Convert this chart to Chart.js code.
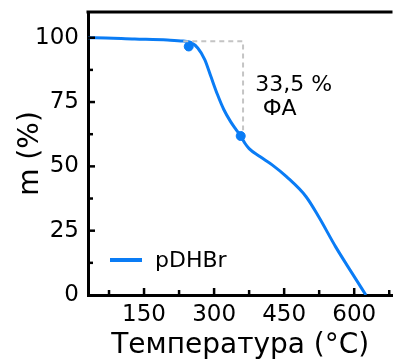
<!DOCTYPE html>
<html lang="ru">
<head>
<meta charset="UTF-8">
<title>TGA</title>
<script src="https://cdn.jsdelivr.net/npm/chart.js"></script>
<style>
  html, body { margin: 0; padding: 0; background: #fff; }
  #wrap { width: 398px; height: 363px; }
</style>
</head>
<body>
<div id="wrap"><canvas id="myChart"></canvas></div>
<script>
  // curve: temperature (°C) and mass (%)
  const temps = [30, 45, 130, 200, 234, 250, 265, 280, 293, 307, 321, 335, 347, 357, 366, 375, 398, 425, 455, 497, 524, 560, 595, 625];
  const mass  = [100, 100, 99.5, 99.1, 98.7, 98.2, 96, 91.5, 85, 78, 72, 67.5, 64.3, 61.8, 59, 56.9, 53.8, 50.5, 46, 38.2, 30.4, 18.8, 8.6, 0];
  // marked points
  const markT = [245.7, 357];
  const markM = [96.6, 61.8];
  // dashed guide
  const guideT = [234, 362, 362];
  const guideM = [98.6, 98.6, 64];
  const xTicks = [150, 300, 450, 600];
  const xMinor = [75, 225, 375, 525, 675];
  const yTicks = [0, 25, 50, 75, 100];
  const yMinor = [12.5, 37.5, 62.5, 87.5];
  const seriesName = "pDHBr";
  const noteLines = ["33,5 %", "ФА"];

  const FONT = "'DejaVu Sans', sans-serif";
  const BLUE = "#0a7cf5";

  const toXY = (xs, ys) => xs.map((x, i) => ({ x: x, y: ys[i] }));

  const extras = {
    id: "extras",
    afterDraw(chart) {
      const ctx = chart.ctx;
      const a = chart.chartArea;
      const xs = chart.scales.x, ys = chart.scales.y;
      ctx.save();
      ctx.strokeStyle = "#000";
      ctx.lineWidth = 3;
      // top frame
      ctx.beginPath();
      ctx.moveTo(a.left - 1.5, a.top);
      ctx.lineTo(a.right, a.top);
      ctx.stroke();
      // inward ticks
      ctx.lineWidth = 2.5;
      const tick = (v, len, horiz) => {
        ctx.beginPath();
        if (horiz) {
          const p = xs.getPixelForValue(v);
          ctx.moveTo(p, a.bottom);
          ctx.lineTo(p, a.bottom - len);
        } else {
          const p = ys.getPixelForValue(v);
          ctx.moveTo(a.left, p);
          ctx.lineTo(a.left + len, p);
        }
        ctx.stroke();
      };
      xTicks.forEach(v => tick(v, 7, true));
      xMinor.forEach(v => tick(v, 5, true));
      yTicks.forEach(v => { if (v > 0) tick(v, 7, false); });
      yMinor.forEach(v => tick(v, 5, false));
      // note
      ctx.fillStyle = "#000";
      ctx.font = "22px " + FONT;
      ctx.textBaseline = "middle";
      ctx.textAlign = "left";
      ctx.fillText(noteLines[0], xs.getPixelForValue(388), ys.getPixelForValue(81.6));
      ctx.fillText(noteLines[1], xs.getPixelForValue(404), ys.getPixelForValue(72));
      // legend
      ctx.strokeStyle = BLUE;
      ctx.lineWidth = 4;
      ctx.beginPath();
      ctx.moveTo(110, 260);
      ctx.lineTo(142, 260);
      ctx.stroke();
      ctx.fillText(seriesName, 155, 261);
      ctx.restore();
    }
  };

  new Chart(document.getElementById("myChart"), {
    type: "scatter",
    data: {
      datasets: [
        {
          label: "guide",
          data: toXY(guideT, guideM),
          showLine: true,
          borderColor: "#c4c4c4",
          borderWidth: 2,
          borderDash: [5, 4],
          pointRadius: 0,
        },
        {
          label: seriesName,
          data: toXY(temps, mass),
          showLine: true,
          borderColor: BLUE,
          borderWidth: 3,
          pointRadius: 0,
          cubicInterpolationMode: "monotone",
        },
        {
          label: "marks",
          data: toXY(markT, markM),
          showLine: false,
          backgroundColor: BLUE,
          borderColor: BLUE,
          pointRadius: 4.5,
        },
      ],
    },
    options: {
      responsive: true,
      maintainAspectRatio: false,
      animation: false,
      layout: { padding: { top: 12, right: 0, left: 0, bottom: 0 } },
      plugins: { legend: { display: false }, tooltip: { enabled: false } },
      scales: {
        x: {
          type: "linear",
          min: 30,
          max: 682,
          afterBuildTicks: (s) => { s.ticks = xTicks.map(v => ({ value: v })); },
          afterFit: (s) => { s.height = 68; s.paddingLeft = 0; s.paddingRight = 0; },
          grid: { display: false, drawTicks: false },
          border: { display: true, color: "#000", width: 3 },
          ticks: { color: "#000", font: { family: FONT, size: 23 }, padding: 6 },
          title: { display: true, text: "Температура (°C)", color: "#000", font: { family: FONT, size: 28 }, padding: { top: 0, bottom: 0 } },
        },
        y: {
          min: 0,
          max: 110,
          afterBuildTicks: (s) => { s.ticks = yTicks.map(v => ({ value: v })); },
          afterFit: (s) => { s.width = 88; s.paddingTop = 0; s.paddingBottom = 0; },
          grid: { display: false, drawTicks: false },
          border: { display: true, color: "#000", width: 3 },
          ticks: { color: "#000", font: { family: FONT, size: 23 }, padding: 9 },
          title: { display: true, text: "m (%)", color: "#000", font: { family: FONT, size: 28 }, padding: { top: 14, bottom: 0 } },
        },
      },
    },
    plugins: [extras],
  });
</script>
</body>
</html>
